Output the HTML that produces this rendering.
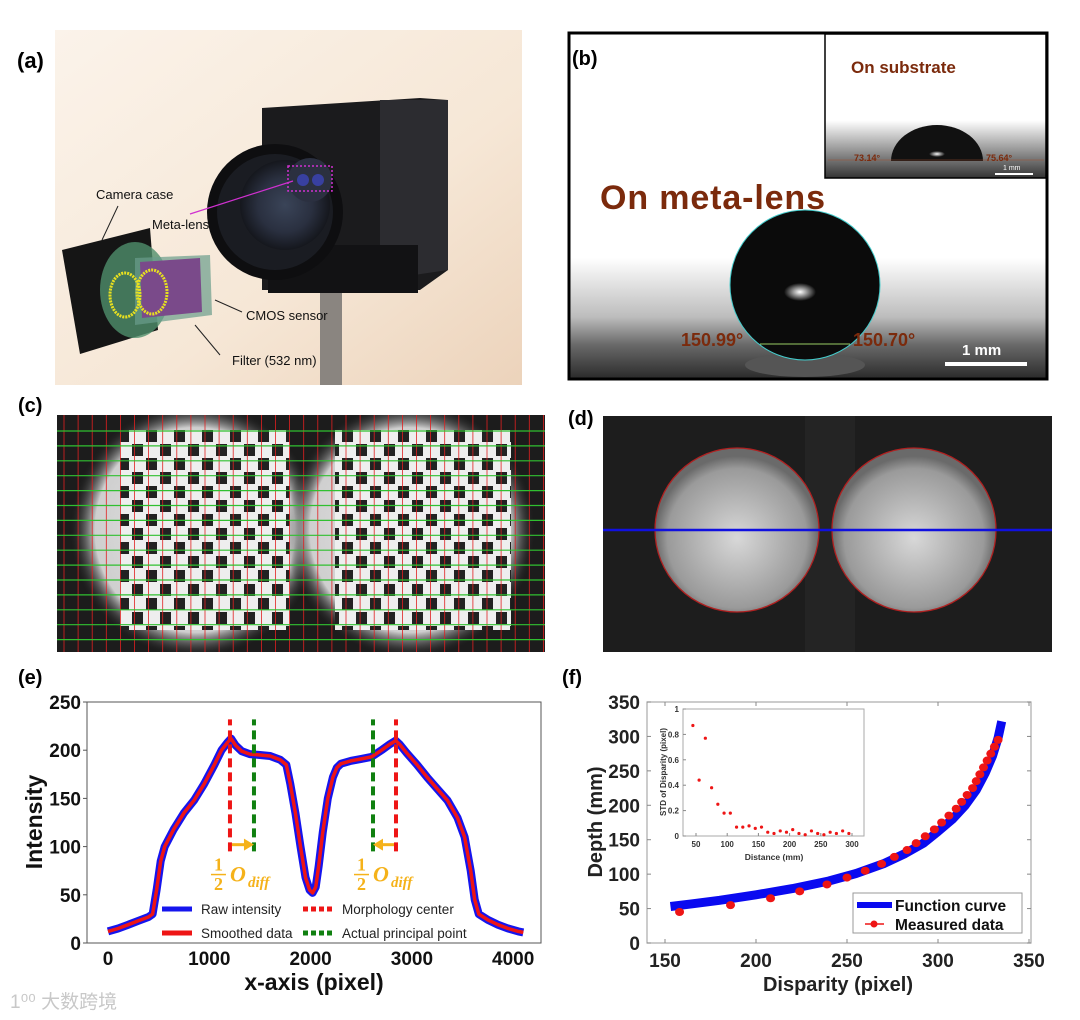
<!DOCTYPE html>
<html><head><meta charset="utf-8">
<style>
html,body{margin:0;padding:0;background:#fff;}
svg{display:block;font-family:"Liberation Sans","Noto Sans CJK SC",sans-serif;}
.b{font-weight:bold;}
</style></head>
<body>
<svg id="fig" width="1080" height="1020" viewBox="0 0 1080 1020" xmlns="http://www.w3.org/2000/svg">
<defs>
  <linearGradient id="bgA" x1="0" y1="0" x2="1" y2="1">
    <stop offset="0" stop-color="#fbf3ea"/><stop offset="0.6" stop-color="#f6e7d6"/><stop offset="1" stop-color="#ecd3bb"/>
  </linearGradient>
  <radialGradient id="lensG" cx="0.5" cy="0.5" r="0.5">
    <stop offset="0" stop-color="#3a4458"/><stop offset="0.6" stop-color="#2a3040"/><stop offset="1" stop-color="#15171d"/>
  </radialGradient>
  <linearGradient id="bgB" x1="0" y1="0" x2="0" y2="1">
    <stop offset="0" stop-color="#ffffff"/><stop offset="0.65" stop-color="#ffffff"/><stop offset="0.82" stop-color="#bdbdbd"/><stop offset="0.9" stop-color="#6a6a6a"/><stop offset="1" stop-color="#2a2a2a"/>
  </linearGradient>
  <linearGradient id="bgB2" x1="0" y1="0" x2="0" y2="1">
    <stop offset="0" stop-color="#ffffff"/><stop offset="0.6" stop-color="#ffffff"/><stop offset="0.8" stop-color="#9a9a9a"/><stop offset="1" stop-color="#333"/>
  </linearGradient>
  <radialGradient id="spot" cx="0.5" cy="0.5" r="0.5">
    <stop offset="0" stop-color="#fff"/><stop offset="1" stop-color="#fff" stop-opacity="0"/>
  </radialGradient>
  <radialGradient id="ovalC" cx="0.5" cy="0.5" r="0.5">
    <stop offset="0" stop-color="#e8e8e8"/><stop offset="0.8" stop-color="#cfcfcf"/><stop offset="1" stop-color="#222" stop-opacity="0"/>
  </radialGradient>
  <radialGradient id="ovalD" cx="0.5" cy="0.55" r="0.5">
    <stop offset="0" stop-color="#d8d8d8"/><stop offset="0.85" stop-color="#9a9a9a"/><stop offset="1" stop-color="#6a6a6a"/>
  </radialGradient>
  <pattern id="checker" x="118" y="430" width="28" height="28" patternUnits="userSpaceOnUse">
    <rect width="28" height="28" fill="#eee"/>
    <rect x="0" y="0" width="11" height="12" fill="#222"/>
    <rect x="14" y="14" width="11" height="12" fill="#222"/>
  </pattern>
  <clipPath id="clipC"><rect x="57" y="415" width="488" height="237"/></clipPath>
</defs>

<!-- ===== (a) photo ===== -->
<g>
  <rect x="55" y="30" width="467" height="355" fill="url(#bgA)"/>
  <rect x="320" y="290" width="22" height="95" fill="#8a8580"/>
  <g>
    <polygon points="262,108 420,98 448,100 448,270 420,290 262,290" fill="#1b1b1d"/>
    <polygon points="380,100 448,100 448,270 380,280" fill="#2c2c30"/>
    <rect x="268" y="245" width="150" height="48" fill="#121214"/>
    <circle cx="275" cy="212" r="68" fill="#0e0e10"/>
    <circle cx="275" cy="212" r="58" fill="#1a1c22"/>
    <circle cx="285" cy="205" r="45" fill="url(#lensG)"/>
    <circle cx="310" cy="180" r="22" fill="#2b3040"/>
    <rect x="288" y="166" width="44" height="25" fill="none" stroke="#d030d0" stroke-width="1.5" stroke-dasharray="2,2"/>
    <circle cx="303" cy="180" r="6" fill="#3840a0"/><circle cx="318" cy="180" r="6" fill="#3840a0"/>
    <line x1="293" y1="181" x2="190" y2="214" stroke="#d030d0" stroke-width="1.2"/>
  </g>
  <g>
    <polygon points="62,250 150,228 158,330 80,354" fill="#151515"/>
    <ellipse cx="135" cy="290" rx="35" ry="48" fill="#4f8e6c" opacity="0.8"/>
    <polygon points="135,258 210,255 212,315 135,325" fill="#6a9c8c" opacity="0.7"/>
    <polygon points="140,262 200,258 202,312 142,318" fill="#7a4a8a"/>
    <ellipse cx="125" cy="295" rx="15" ry="22" fill="none" stroke="#e8e020" stroke-width="3" stroke-dasharray="2,1"/>
    <ellipse cx="152" cy="292" rx="15" ry="22" fill="none" stroke="#e8e020" stroke-width="3" stroke-dasharray="2,1"/>
    <line x1="118" y1="206" x2="102" y2="240" stroke="#222" stroke-width="1"/>
    <line x1="215" y1="300" x2="242" y2="312" stroke="#222" stroke-width="1"/>
    <line x1="195" y1="325" x2="220" y2="355" stroke="#222" stroke-width="1"/>
  </g>
  <text x="96" y="199" font-size="13" fill="#111">Camera case</text>
  <text x="152" y="229" font-size="13" fill="#111">Meta-lens</text>
  <text x="246" y="320" font-size="13" fill="#111">CMOS sensor</text>
  <text x="232" y="365" font-size="13" fill="#111">Filter (532 nm)</text>
</g>
<text x="17" y="68" font-size="22" class="b" fill="#000">(a)</text>

<!-- ===== (b) contact angle ===== -->
<g>
  <rect x="569" y="33" width="478" height="346" fill="url(#bgB)" stroke="#000" stroke-width="3"/>
  <ellipse cx="805" cy="365" rx="60" ry="12" fill="#555"/>
  <circle cx="805" cy="285" r="75" fill="#0b0b0b" stroke="#4cc" stroke-width="1"/>
  <ellipse cx="800" cy="292" rx="16" ry="9" fill="url(#spot)"/>
  <line x1="760" y1="344" x2="850" y2="344" stroke="#9c6" stroke-width="1"/>
  <text x="600" y="209" font-size="34" class="b" fill="#7b2a0c" textLength="225">On meta-lens</text>
  <text x="681" y="346" font-size="18" class="b" fill="#7b2a0c">150.99°</text>
  <text x="853" y="346" font-size="18" class="b" fill="#7b2a0c">150.70°</text>
  <rect x="945" y="362" width="82" height="4" fill="#fff"/>
  <text x="962" y="355" font-size="15" class="b" fill="#fff">1 mm</text>
  <g>
    <rect x="825" y="34" width="221" height="144" fill="url(#bgB2)" stroke="#000" stroke-width="1.5"/>
    <path d="M891,161 A46,36 0 0 1 983,161 Z" fill="#111"/>
    <ellipse cx="937" cy="154" rx="8" ry="3" fill="url(#spot)"/>
    <line x1="828" y1="160" x2="1044" y2="160" stroke="#a05030" stroke-width="0.6"/>
    <text x="851" y="73" font-size="17" class="b" fill="#7b2a0c">On substrate</text>
    <text x="854" y="161" font-size="9" class="b" fill="#7b2a0c">73.14°</text>
    <text x="986" y="161" font-size="9" class="b" fill="#7b2a0c">75.64°</text>
    <rect x="995" y="173" width="38" height="2" fill="#fff"/>
    <text x="1003" y="170" font-size="7" fill="#fff">1 mm</text>
  </g>
</g>
<text x="572" y="65" font-size="20" class="b" fill="#000">(b)</text>

<!-- ===== (c) checkerboard ===== -->
<g clip-path="url(#clipC)">
  <rect x="57" y="415" width="488" height="237" fill="#1c1c1c"/>
  <ellipse cx="195" cy="530" rx="125" ry="128" fill="url(#ovalC)"/>
  <ellipse cx="410" cy="530" rx="125" ry="128" fill="url(#ovalC)"/>
  <rect x="120" y="430" width="170" height="200" fill="url(#checker)"/>
  <rect x="335" y="430" width="176" height="200" fill="url(#checker)"/>
  <g id="gridC"></g>
</g>
<text x="18" y="412" font-size="20" class="b" fill="#000">(c)</text>

<!-- ===== (d) circles ===== -->
<g>
  <rect x="603" y="416" width="449" height="236" fill="#1d1d1d"/>
  <rect x="805" y="416" width="50" height="236" fill="#242424"/>
  <circle cx="737" cy="530" r="82" fill="url(#ovalD)" stroke="#b02020" stroke-width="1.3"/>
  <circle cx="914" cy="530" r="82" fill="url(#ovalD)" stroke="#b02020" stroke-width="1.3"/>
  <line x1="603" y1="530" x2="1052" y2="530" stroke="#1010e0" stroke-width="2.5"/>
</g>
<text x="568" y="425" font-size="20" class="b" fill="#000">(d)</text>

<!-- ===== (e) chart ===== -->
<text x="18" y="684" font-size="20" class="b" fill="#000">(e)</text>
<g id="chartE"></g>

<!-- ===== (f) chart ===== -->
<text x="562" y="684" font-size="20" class="b" fill="#000">(f)</text>
<g id="chartF"></g>

<text x="10" y="1008" font-size="19" fill="#c8c8c8">1⁰⁰ 大数跨境</text>
</svg>

<script>
// ---- chart (e) data ----
const profileX = [0,100,200,300,400,440,480,520,560,650,750,850,950,1050,1120,1180,1215,1260,1320,1400,1500,1600,1700,1760,1800,1850,1900,1950,1990,2020,2050,2080,2120,2170,2220,2260,2300,2400,2500,2600,2700,2780,2840,2880,2950,3050,3150,3250,3350,3450,3520,3580,3620,3660,3750,3850,3950,4050,4100];
const profileY = [12,15,19,23,27,30,55,85,100,118,135,148,165,185,200,208,212,205,199,196,195,194,190,185,165,135,100,68,55,52,58,80,115,150,172,182,186,189,191,193,200,206,210,206,197,185,172,160,148,130,110,75,45,30,24,19,15,12,11];
const morphCenters = [1204,2843];
const principalPts = [1441,2616];
const eXTicks = [0,1000,2000,3000,4000];
const eYTicks = [0,50,100,150,200,250];

// ---- chart (f) data ----
const curveDisp = [153,165,180,200,220,240,255,270,282,292,300,308,315,321,326,330,333,335];
const curveDepth = [53,57,62,70,79,90,101,115,130,145,162,180,200,222,247,272,298,322];
const measDisp = [158,186,208,224,239,250,260,269,276,283,288,293,298,302,306,310,313,316,319,321,323,325,327,329,331,333];
const measDepth = [45,55,65,75,85,95,105,115,125,135,145,155,165,175,185,195,205,215,225,235,245,255,265,275,285,295];
const fXTicks = [150,200,250,300,350];
const fYTicks = [0,50,100,150,200,250,300,350];
// inset
const insetDist = [45,55,65,75,85,95,105,115,125,135,145,155,165,175,185,195,205,215,225,235,245,255,265,275,285,295];
const insetStd = [0.87,0.44,0.77,0.38,0.25,0.18,0.18,0.07,0.07,0.08,0.06,0.07,0.03,0.02,0.04,0.03,0.05,0.02,0.01,0.04,0.02,0.01,0.03,0.02,0.04,0.02];
const insetXTicks = [50,100,150,200,250,300];
const insetYTicks = [0,0.2,0.4,0.6,0.8,1];

const NS = "http://www.w3.org/2000/svg";
function mk(parent, tag, attrs, text){
  const el = document.createElementNS(NS, tag);
  for (const k in attrs) el.setAttribute(k, attrs[k]);
  if (text !== undefined) el.textContent = text;
  parent.appendChild(el);
  return el;
}

// ---- grid in (c) ----
(function(){
  const g = document.getElementById('gridC');
  for (let x = 64; x < 545; x += 14.1) {
    const l = mk(g,'line',{x1:x,y1:415,x2:x,y2:652,stroke:'#e02020','stroke-width':0.8});
    
    
  }
  for (let y = 431; y < 652; y += 14.9) {
    const l = mk(g,'line',{x1:57,y1:y,x2:545,y2:y,stroke:'#30c030','stroke-width':1.2});
    
    
  }
})();

// ---- chart (e) ----
(function(){
  const g = document.getElementById('chartE');
  const L=87,R=541,T=702,B=943;
  const xE = v => 108 + v*0.1013;
  const yE = v => B - v*(B-T)/250;
  const frame = mk(g,'rect',{x:L,y:T,width:R-L,height:B-T,fill:'none',stroke:'#555','stroke-width':1});
  
  
  eYTicks.forEach(v=>{
    const t = mk(g,'text',{x:L-6,y:yE(v)+7,'font-size':19,'font-weight':'bold','text-anchor':'end',fill:'#111'},String(v));
    
    
    mk(g,'line',{x1:L-4,y1:yE(v),x2:L,y2:yE(v),stroke:'#555'});
  });
  eXTicks.forEach(v=>{
    const t = mk(g,'text',{x:xE(v),y:B+22,'font-size':19,'font-weight':'bold','text-anchor':'middle',fill:'#111'},String(v));
    
    
  });
  const yt = mk(g,'text',{x:0,y:0,transform:'translate(42,822) rotate(-90)','font-size':23,'font-weight':'bold','text-anchor':'middle',fill:'#111'},'Intensity');
  
  
  const xt = mk(g,'text',{x:314,y:990,'font-size':23,'font-weight':'bold','text-anchor':'middle',fill:'#111'},'x-axis (pixel)');
  
  

  const pts = profileX.map((x,i)=>xE(x).toFixed(1)+','+yE(profileY[i]).toFixed(1)).join(' ');
  const raw = mk(g,'polyline',{points:pts,fill:'none',stroke:'#1515ee','stroke-width':8,'stroke-linejoin':'round'});
  
  
  const sm = mk(g,'polyline',{points:pts,fill:'none',stroke:'#ee1515','stroke-width':3.5,'stroke-linejoin':'round'});
  
  

  morphCenters.forEach(v=>{
    const l = mk(g,'line',{x1:xE(v),y1:yE(95),x2:xE(v),y2:yE(232),stroke:'#ee1515','stroke-width':4,'stroke-dasharray':'9,5'});
    
    
  });
  principalPts.forEach(v=>{
    const l = mk(g,'line',{x1:xE(v),y1:yE(95),x2:xE(v),y2:yE(232),stroke:'#108010','stroke-width':4,'stroke-dasharray':'9,5'});
    
    
  });
  [[morphCenters[0],principalPts[0]],[morphCenters[1],principalPts[1]]].forEach(([a,b])=>{
    const y = yE(102), x1 = xE(a), x2 = xE(b), dir = x2 > x1 ? 1 : -1;
    const ar = mk(g,'line',{x1:x1+dir*2,y1:y,x2:x2-dir*8,y2:y,stroke:'#f5b21a','stroke-width':3});
    
    
    mk(g,'polygon',{points:`${x2},${y} ${x2-dir*10},${y-6} ${x2-dir*10},${y+6}`,fill:'#f5b21a'});
    const lx = Math.min(x1,x2) - 22;
    const lab = mk(g,'g',{});
    
    
    mk(lab,'text',{x:lx+6,y:yE(75),'font-size':18,'font-weight':'bold',fill:'#f5b21a','font-family':'Liberation Serif, serif'},'1');
    mk(lab,'line',{x1:lx+3,y1:yE(71),x2:lx+18,y2:yE(71),stroke:'#f5b21a','stroke-width':1.5});
    mk(lab,'text',{x:lx+6,y:yE(55),'font-size':18,'font-weight':'bold',fill:'#f5b21a','font-family':'Liberation Serif, serif'},'2');
    mk(lab,'text',{x:lx+22,y:yE(64),'font-size':22,'font-style':'italic','font-weight':'bold',fill:'#f5b21a','font-family':'Liberation Serif, serif'},'O');
    mk(lab,'text',{x:lx+40,y:yE(58),'font-size':15,'font-style':'italic','font-weight':'bold',fill:'#f5b21a','font-family':'Liberation Serif, serif'},'diff');
  });
  const lg = mk(g,'g',{});
  
  
  const items = [
    [162,909,'#1515ee',null,'Raw intensity'],
    [162,933,'#ee1515',null,'Smoothed data'],
    [303,909,'#ee1515','5,3','Morphology center'],
    [303,933,'#108010','5,3','Actual principal point']
  ];
  items.forEach(([x,y,c,d,txt])=>{
    const a = {x1:x,y1:y,x2:x+30,y2:y,stroke:c,'stroke-width':5};
    if (d) a['stroke-dasharray']=d;
    mk(lg,'line',a);
    const t = mk(lg,'text',{x:x+39,y:y+5,'font-size':13.5,fill:'#222'},txt);
    
    
  });
})();

// ---- chart (f) ----
(function(){
  const g = document.getElementById('chartF');
  const L=647,R=1031,T=702,B=943;
  const xF = v => 665 + (v-150)*1.82;
  const yF = v => B - v*(B-T)/350;
  const frame = mk(g,'rect',{x:L,y:T,width:R-L,height:B-T,fill:'#fff',stroke:'#aaa','stroke-width':1.2});
  
  
  fYTicks.forEach(v=>{
    const t = mk(g,'text',{x:L-7,y:yF(v)+7,'font-size':19,'font-weight':'bold','text-anchor':'end',fill:'#222'},String(v));
    
    
    mk(g,'line',{x1:L,y1:yF(v),x2:L+4,y2:yF(v),stroke:'#888'});
    mk(g,'line',{x1:R,y1:yF(v),x2:R-4,y2:yF(v),stroke:'#888'});
  });
  fXTicks.forEach(v=>{
    const t = mk(g,'text',{x:xF(v),y:B+24,'font-size':19,'font-weight':'bold','text-anchor':'middle',fill:'#222'},String(v));
    
    
    mk(g,'line',{x1:xF(v),y1:B,x2:xF(v),y2:B-4,stroke:'#888'});
    mk(g,'line',{x1:xF(v),y1:T,x2:xF(v),y2:T+4,stroke:'#888'});
  });
  const yt = mk(g,'text',{x:0,y:0,transform:'translate(602,822) rotate(-90)','font-size':20,'font-weight':'bold','text-anchor':'middle',fill:'#222'},'Depth (mm)');
  
  
  const xt = mk(g,'text',{x:838,y:991,'font-size':20,'font-weight':'bold','text-anchor':'middle',fill:'#222'},'Disparity (pixel)');
  
  

  const cp = curveDisp.map((d,i)=>xF(d).toFixed(1)+','+yF(curveDepth[i]).toFixed(1)).join(' ');
  const cl = mk(g,'polyline',{points:cp,fill:'none',stroke:'#0a0af0','stroke-width':9,'stroke-linejoin':'round'});
  
  
  measDisp.forEach((d,i)=>{
    const c = mk(g,'ellipse',{cx:xF(d),cy:yF(measDepth[i]),rx:4.5,ry:4,fill:'#ee1515'});
    
    
  });

  const IL=683,IR=864,IT=709,IB=836;
  const xi = v => 696 + (v-50)*(852-696)/250;
  const yi = v => IB - v*(IB-IT);
  const ins = mk(g,'g',{});
  
  
  mk(ins,'rect',{x:IL,y:IT,width:IR-IL,height:IB-IT,fill:'#fff',stroke:'#aaa','stroke-width':1});
  insetYTicks.forEach(v=>{
    const t = mk(ins,'text',{x:IL-4,y:yi(v)+3,'font-size':8,'font-weight':'bold','text-anchor':'end',fill:'#333'},String(v));
    
    
    mk(ins,'line',{x1:IL,y1:yi(v),x2:IL+3,y2:yi(v),stroke:'#888'});
  });
  insetXTicks.forEach(v=>{
    const t = mk(ins,'text',{x:xi(v),y:IB+11,'font-size':8,'font-weight':'bold','text-anchor':'middle',fill:'#333'},String(v));
    
    
    mk(ins,'line',{x1:xi(v),y1:IB,x2:xi(v),y2:IB-3,stroke:'#888'});
  });
  const ixt = mk(ins,'text',{x:774,y:860,'font-size':8.5,'font-weight':'bold','text-anchor':'middle',fill:'#333'},'Distance (mm)');
  
  
  const iyt = mk(ins,'text',{x:0,y:0,transform:'translate(666,772) rotate(-90)','font-size':8,'font-weight':'bold','text-anchor':'middle',fill:'#333'},'STD of Disparity (pixel)');
  
  
  insetDist.forEach((d,i)=>{
    const c = mk(ins,'circle',{cx:xi(d),cy:yi(insetStd[i]),r:1.6,fill:'#ee1515'});
    
    
  });

  const lg = mk(g,'g',{});
  
  
  mk(lg,'rect',{x:853,y:893,width:169,height:40,fill:'#fff',stroke:'#999','stroke-width':1});
  mk(lg,'line',{x1:857,y1:905,x2:892,y2:905,stroke:'#0a0af0','stroke-width':6});
  const t1 = mk(lg,'text',{x:895,y:911,'font-size':15.5,'font-weight':'bold',fill:'#111'},'Function curve');
  
  
  mk(lg,'line',{x1:865,y1:924,x2:884,y2:924,stroke:'#ee1515','stroke-width':1.5});
  mk(lg,'circle',{cx:874,cy:924,r:3.5,fill:'#ee1515'});
  const t2 = mk(lg,'text',{x:895,y:930,'font-size':15.5,'font-weight':'bold',fill:'#111'},'Measured data');
  
  
})();
</script>
</body></html>
